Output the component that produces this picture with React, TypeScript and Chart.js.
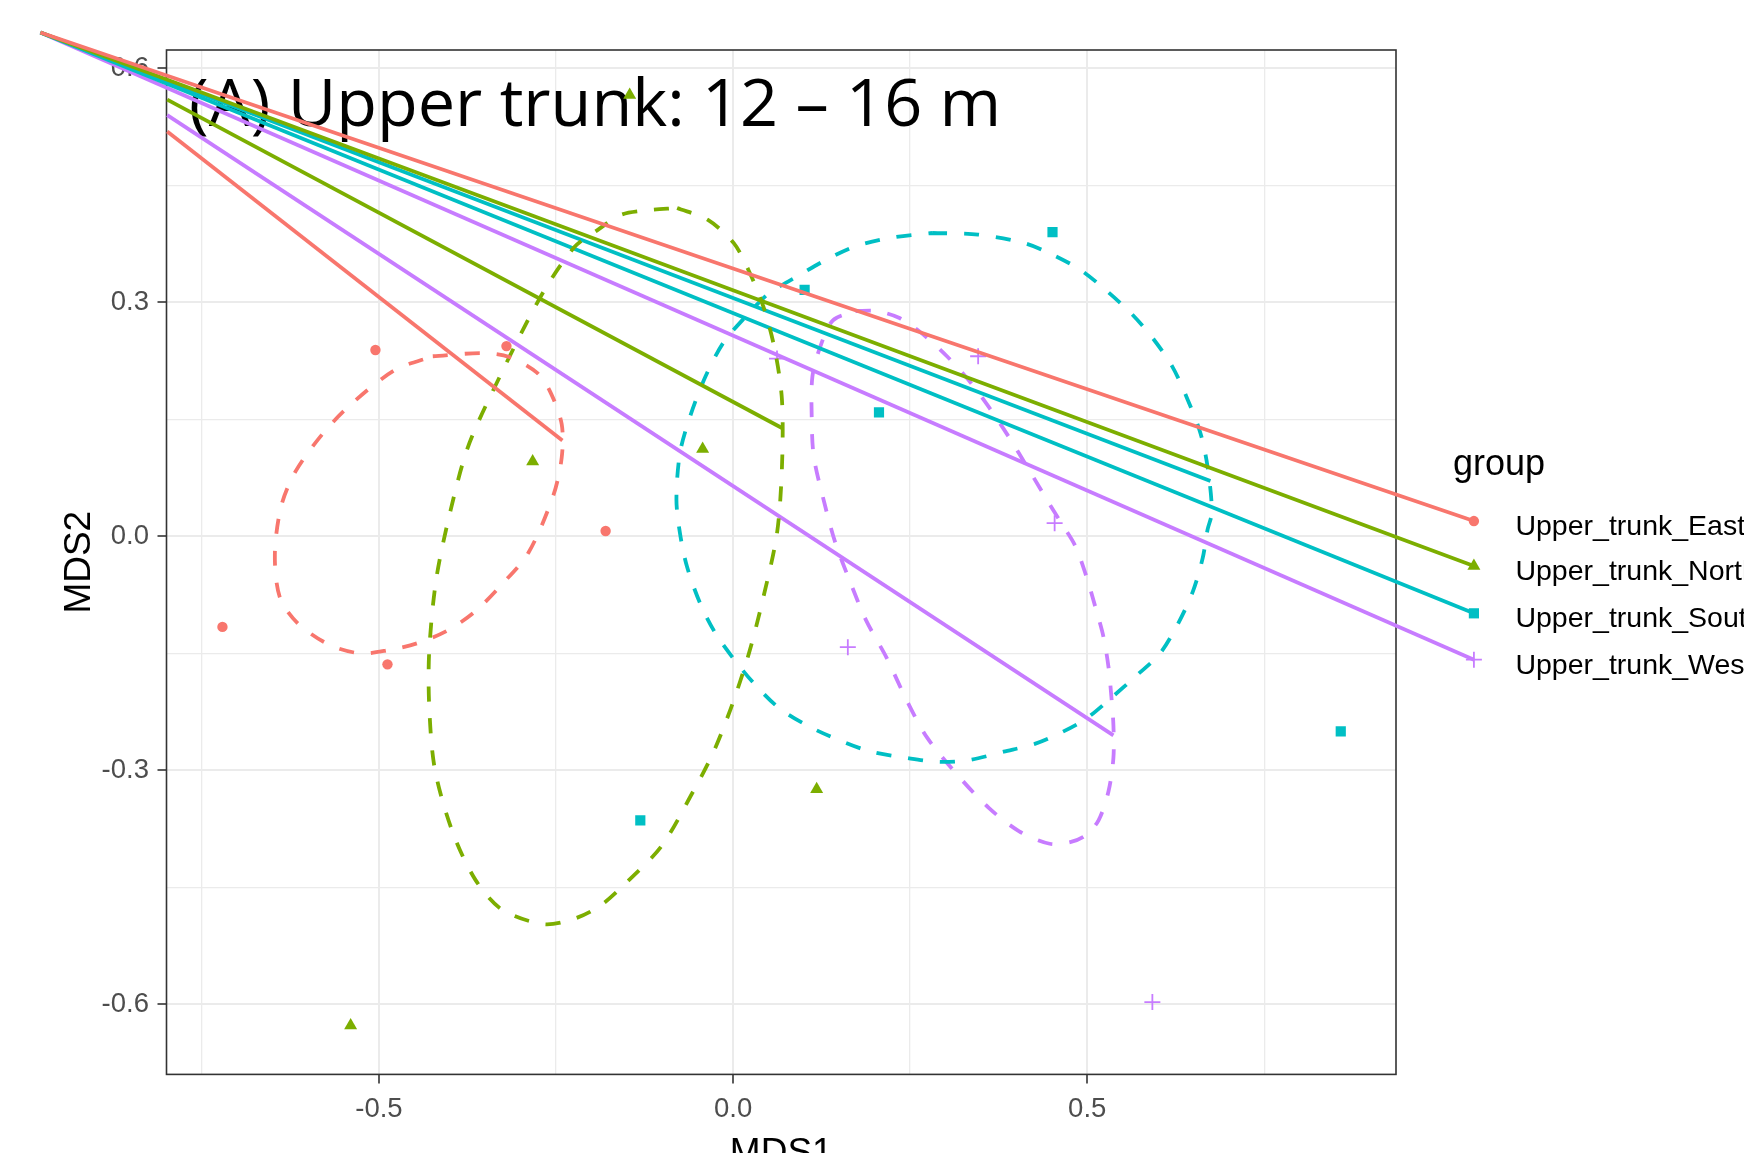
import React, { useEffect, useRef } from "react";
import { Chart, registerables } from "chart.js";

Chart.register(...registerables);

// ---------- data ----------
const groups = ["Upper_trunk_East", "Upper_trunk_North", "Upper_trunk_South", "Upper_trunk_West"];
const titleText = "(A) Upper trunk: 12 \u2013 16 m";
const xAxisTitle = "MDS1";
const yAxisTitle = "MDS2";
const legendTitle = "group";

const eastX = [-0.505, -0.32, -0.18, -0.721, -0.488];
const eastY = [0.239, 0.244, 0.007, -0.116, -0.164];
const northX = [-0.146, -0.283, -0.043, 0.118, -0.54];
const northY = [0.566, 0.096, 0.112, -0.324, -0.627];
const southX = [0.451, 0.101, 0.206, -0.131, 0.858];
const southY = [0.39, 0.316, 0.159, -0.364, -0.25];
const westX = [0.062, 0.346, 0.454, 0.162, 0.592];
const westY = [0.228, 0.231, 0.017, -0.142, -0.597];

const eastEllipseX = [-0.424, -0.354, -0.316, -0.277, -0.258, -0.242, -0.242, -0.254, -0.289, -0.327, -0.364, -0.402, -0.446, -0.488, -0.526, -0.57, -0.615, -0.64, -0.647, -0.638, -0.618, -0.58, -0.54, -0.478];
const eastEllipseY = [0.231, 0.235, 0.23, 0.21, 0.185, 0.144, 0.101, 0.052, -0.021, -0.062, -0.096, -0.12, -0.137, -0.146, -0.15, -0.139, -0.111, -0.078, -0.023, 0.039, 0.083, 0.131, 0.169, 0.213];

const northEllipseX = [-0.079, -0.036, 0.001, 0.022, 0.043, 0.059, 0.069, 0.069, 0.062, 0.043, 0.022, -0.003, -0.029, -0.057, -0.101, -0.151, -0.187, -0.224, -0.268, -0.327, -0.364, -0.396, -0.421, -0.429, -0.429, -0.419, -0.399, -0.375, -0.34, -0.272, -0.224, -0.191, -0.159, -0.122];
const northEllipseY = [0.421, 0.406, 0.376, 0.341, 0.294, 0.239, 0.175, 0.089, 0.004, -0.077, -0.151, -0.22, -0.279, -0.328, -0.397, -0.444, -0.473, -0.49, -0.497, -0.478, -0.44, -0.379, -0.299, -0.219, -0.146, -0.054, 0.033, 0.113, 0.185, 0.307, 0.371, 0.393, 0.412, 0.418];

const southEllipseX = [0.281, 0.346, 0.411, 0.447, 0.49, 0.526, 0.562, 0.591, 0.62, 0.642, 0.66, 0.67, 0.676, 0.67, 0.663, 0.649, 0.627, 0.602, 0.57, 0.534, 0.498, 0.462, 0.426, 0.382, 0.332, 0.289, 0.245, 0.195, 0.152, 0.108, 0.065, 0.029, 0.0, -0.025, -0.046, -0.065, -0.075, -0.08, -0.075, -0.061, -0.039, -0.014, 0.018, 0.051, 0.09, 0.13, 0.173, 0.224];
const southEllipseY = [0.389, 0.387, 0.376, 0.363, 0.342, 0.316, 0.286, 0.256, 0.218, 0.175, 0.132, 0.089, 0.031, 0.009, -0.028, -0.071, -0.114, -0.151, -0.178, -0.207, -0.234, -0.252, -0.266, -0.276, -0.287, -0.289, -0.284, -0.276, -0.262, -0.244, -0.22, -0.188, -0.156, -0.124, -0.087, -0.039, 0.004, 0.047, 0.107, 0.153, 0.205, 0.248, 0.282, 0.312, 0.333, 0.354, 0.372, 0.383];

const westEllipseX = [0.173, 0.202, 0.235, 0.267, 0.303, 0.332, 0.361, 0.389, 0.418, 0.447, 0.465, 0.483, 0.498, 0.512, 0.523, 0.53, 0.534, 0.537, 0.537, 0.53, 0.516, 0.498, 0.476, 0.447, 0.404, 0.361, 0.317, 0.274, 0.245, 0.217, 0.188, 0.166, 0.144, 0.13, 0.114, 0.111, 0.112, 0.123, 0.141];
const westEllipseY = [0.289, 0.289, 0.28, 0.26, 0.23, 0.201, 0.166, 0.128, 0.085, 0.041, 0.015, -0.012, -0.049, -0.092, -0.129, -0.167, -0.204, -0.242, -0.284, -0.327, -0.364, -0.383, -0.392, -0.394, -0.378, -0.348, -0.306, -0.258, -0.21, -0.156, -0.108, -0.06, -0.007, 0.039, 0.102, 0.153, 0.205, 0.243, 0.277];

// guide lines (long ones run to the legend keys)
const guideOriginX = -0.978;
const guideOriginY = 0.646;
const legendKeyX = 1.046;
const legendKeyY = [0.0197, -0.038, -0.0986, -0.158];
const shortStartX = [-0.799, -0.799, -0.978, -0.799];
const shortStartY = [0.519, 0.56, 0.646, 0.54];
const shortEndX = [-0.241, 0.069, 0.674, 0.537];
const shortEndY = [0.123, 0.139, 0.071, -0.255];

const xRange = [-0.8, 0.936];
const yRange = [-0.6897, 0.6236];
const xMajorTicks = [-0.5, 0, 0.5];
const xTickLabels = ["-0.5", "0.0", "0.5"];
const xMinorTicks = [-0.75, -0.25, 0.25, 0.75];
const yMajorTicks = [-0.6, -0.3, 0, 0.3, 0.6];
const yTickLabels = ["-0.6", "-0.3", "0.0", "0.3", "0.6"];
const yMinorTicks = [-0.45, -0.15, 0.15, 0.45];

// ---------- styles ----------
const groupColors = ["#F8766D", "#7CAE00", "#00BFC4", "#C77CFF"];
const pointStyles = ["circle", "triangle", "rect", "cross"];
const pointRadii = [5.2, 7.5, 7.2, 8];
const pointBorders = [0, 0, 0, 1.8];
const lineW = 3.8;

const pointsX = [eastX, northX, southX, westX];
const pointsY = [eastY, northY, southY, westY];
const ellX = [eastEllipseX, northEllipseX, southEllipseX, westEllipseX];
const ellY = [eastEllipseY, northEllipseY, southEllipseY, westEllipseY];

const isIn = (v: number, arr: number[]) => arr.some((m) => Math.abs(m - v) < 1e-9);

const decorPlugin = {
  id: "decor",
  beforeDatasetsDraw(chart: any) {
    const { ctx, chartArea: a } = chart;
    ctx.save();
    ctx.strokeStyle = "#333333";
    ctx.lineWidth = 1.6;
    ctx.strokeRect(a.left, a.top, a.right - a.left, a.bottom - a.top);
    ctx.fillStyle = "#000000";
    ctx.font = '66.6px "Open Sans"';
    ctx.textAlign = "left";
    ctx.textBaseline = "alphabetic";
    ctx.fillText(titleText, a.left + 22.5, a.top + 76);
    ctx.restore();
  },
  afterDatasetsDraw(chart: any) {
    // legend keys sit at the end of the guide lines, outside the plot area
    const { ctx } = chart;
    const big = { left: -1e5, top: -1e5, right: 1e5, bottom: 1e5 };
    chart.data.datasets.forEach((ds: any, idx: number) => {
      if (!ds.isGuide) return;
      const meta = chart.getDatasetMeta(idx);
      const el = meta.data[meta.data.length - 1];
      if (el) el.draw(ctx, big);
    });
  },
  afterDraw(chart: any) {
    const { ctx, chartArea: a, scales } = chart;
    const xs = scales.x;
    const ys = scales.y;
    ctx.save();
    ctx.fillStyle = "#000000";
    ctx.font = '37px "Liberation Sans"';
    ctx.textBaseline = "alphabetic";
    ctx.textAlign = "center";
    ctx.fillText(xAxisTitle, (a.left + a.right) / 2, a.bottom + 90);
    ctx.save();
    ctx.translate(a.left - 76.5, (a.top + a.bottom) / 2);
    ctx.rotate(-Math.PI / 2);
    ctx.fillText(yAxisTitle, 0, 0);
    ctx.restore();
    const kx = xs.getPixelForValue(legendKeyX);
    ctx.textAlign = "left";
    ctx.font = '36px "Liberation Sans"';
    ctx.fillText(legendTitle, kx - 21, ys.getPixelForValue(legendKeyY[0]) - 46);
    ctx.font = '28.5px "Liberation Sans"';
    groups.forEach((g, i) => {
      ctx.fillText(g, kx + 41.5, ys.getPixelForValue(legendKeyY[i]) + 14);
    });
    ctx.restore();
  },
};

export default function App() {
  const ref = useRef<HTMLCanvasElement | null>(null);
  useEffect(() => {
    if (!ref.current) return;
    const datasets: any[] = [];
    groups.forEach((g, i) => {
      const ex = [...ellX[i], ellX[i][0]];
      const ey = [...ellY[i], ellY[i][0]];
      datasets.push({
        label: g + " ellipse",
        data: ex.map((x, j) => ({ x, y: ey[j] })),
        showLine: true,
        borderColor: groupColors[i],
        borderWidth: lineW,
        borderDash: [15, 17],
        pointRadius: 0,
        tension: 0.3,
        fill: false,
      });
      datasets.push({
        label: g,
        data: pointsX[i].map((x, j) => ({ x, y: pointsY[i][j] })),
        showLine: false,
        pointStyle: pointStyles[i],
        pointRadius: pointRadii[i],
        pointBackgroundColor: groupColors[i],
        pointBorderColor: groupColors[i],
        pointBorderWidth: pointBorders[i],
      });
      datasets.push({
        label: g + " guide",
        isGuide: true,
        data: [
          { x: guideOriginX, y: guideOriginY },
          { x: legendKeyX, y: legendKeyY[i] },
        ],
        showLine: true,
        borderColor: groupColors[i],
        borderWidth: lineW,
        pointStyle: pointStyles[i],
        pointRadius: [0, pointRadii[i]],
        pointBackgroundColor: groupColors[i],
        pointBorderColor: groupColors[i],
        pointBorderWidth: pointBorders[i],
        clip: false,
      });
      datasets.push({
        label: g + " segment",
        data: [
          { x: shortStartX[i], y: shortStartY[i] },
          { x: shortEndX[i], y: shortEndY[i] },
        ],
        showLine: true,
        borderColor: groupColors[i],
        borderWidth: lineW,
        pointRadius: 0,
        clip: false,
      });
    });

    const gridColor = "#EBEBEB";
    const chart = new Chart(ref.current, {
      type: "scatter",
      data: { datasets },
      plugins: [decorPlugin],
      options: {
        animation: false,
        responsive: false,
        devicePixelRatio: 1,
        events: [],
        layout: { padding: { top: 50, right: 348, left: 0, bottom: 0 } },
        plugins: { legend: { display: false }, tooltip: { enabled: false } },
        scales: {
          x: {
            type: "linear",
            min: xRange[0],
            max: xRange[1],
            afterBuildTicks: (s: any) => {
              s.ticks = [...xMajorTicks, ...xMinorTicks].sort((p, q) => p - q).map((v) => ({ value: v }));
            },
            afterFit: (s: any) => {
              s.height = 78.6;
            },
            border: { display: false },
            grid: {
              color: gridColor,
              lineWidth: (c: any) => (isIn(c.tick?.value, xMajorTicks) ? 2 : 1.3),
              tickLength: 9,
              tickWidth: 1.6,
              tickColor: (c: any) => (isIn(c.tick?.value, xMajorTicks) ? "#333333" : "rgba(0,0,0,0)"),
            },
            ticks: {
              autoSkip: false,
              maxRotation: 0,
              padding: 10,
              color: "#4D4D4D",
              font: { family: "Liberation Sans", size: 27.5 },
              callback: (v: any) => {
                const k = xMajorTicks.findIndex((m) => Math.abs(m - v) < 1e-9);
                return k >= 0 ? xTickLabels[k] : "";
              },
            },
          },
          y: {
            type: "linear",
            min: yRange[0],
            max: yRange[1],
            afterBuildTicks: (s: any) => {
              s.ticks = [...yMajorTicks, ...yMinorTicks].sort((p, q) => p - q).map((v) => ({ value: v }));
            },
            afterFit: (s: any) => {
              s.width = 166.5;
            },
            border: { display: false },
            grid: {
              color: gridColor,
              lineWidth: (c: any) => (isIn(c.tick?.value, yMajorTicks) ? 2 : 1.3),
              tickLength: 9,
              tickWidth: 1.6,
              tickColor: (c: any) => (isIn(c.tick?.value, yMajorTicks) ? "#333333" : "rgba(0,0,0,0)"),
            },
            ticks: {
              autoSkip: false,
              padding: 8.5,
              color: "#4D4D4D",
              font: { family: "Liberation Sans", size: 27.5 },
              callback: (v: any) => {
                const k = yMajorTicks.findIndex((m) => Math.abs(m - v) < 1e-9);
                return k >= 0 ? yTickLabels[k] : "";
              },
            },
          },
        },
      } as any,
    });
    return () => chart.destroy();
  }, []);

  return (
    <div style={{ position: "absolute", left: 0, top: 0, width: 1744, height: 1153, background: "#ffffff" }}>
      <canvas ref={ref} width={1744} height={1153} style={{ display: "block", width: 1744, height: 1153 }} />
    </div>
  );
}
